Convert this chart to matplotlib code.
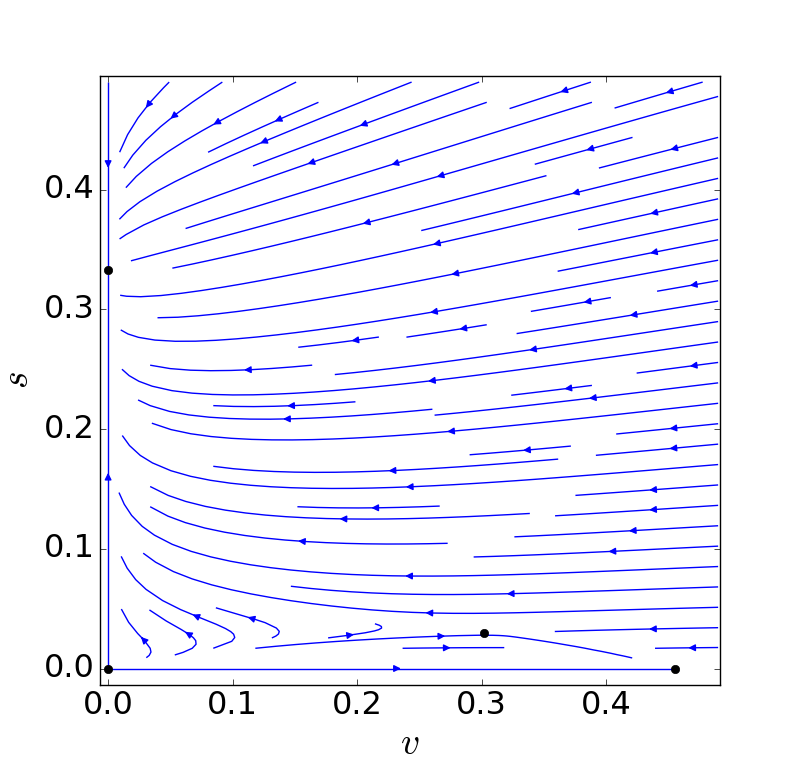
import numpy as np
import matplotlib
matplotlib.use("Agg")
import matplotlib.pyplot as plt

plt.style.use("classic")

# Equilibria
v_eq = [0.0, 0.0, 0.302, 0.455]
s_eq = [0.0, 0.333, 0.030, 0.0]

# Model parameters (chosen so the nullclines pass through the equilibria)
K = 0.455        # v-axis equilibrium
S0 = 0.333       # s-axis equilibrium
h = 0.02
c = (K - 0.302) * (0.302 + h) / 0.030
m = (S0 - 0.030) / 0.302
r = 0.33
p = 1.5

v_grid = np.linspace(0.0, 0.49, 120)
s_grid = np.linspace(0.0, 0.49, 120)
V, Sg = np.meshgrid(v_grid, s_grid)

hump = (K - V) * (V + h) / c
dV = V * (hump - Sg)
dS = r * Sg**p * (S0 - Sg - m * V)

fig = plt.figure(figsize=(8, 7.61), facecolor="white")
ax = fig.add_subplot(111)
ax.streamplot(v_grid, s_grid, dV, dS, color="b", density=1, linewidth=1.0,
              arrowsize=1)
ax.plot(v_eq, s_eq, "ko", markersize=6, zorder=5)

ax.set_xlim(-0.0065, 0.4915)
ax.set_ylim(-0.0137, 0.495)
ax.set_xticks([0.0, 0.1, 0.2, 0.3, 0.4])
ax.set_yticks([0.0, 0.1, 0.2, 0.3, 0.4])
ax.tick_params(labelsize=23)
ax.set_xlabel(r"$v$", fontsize=27, labelpad=3)
ax.set_ylabel(r"$s$", fontsize=27)

fig.savefig("out.png", dpi=100, facecolor="white")
